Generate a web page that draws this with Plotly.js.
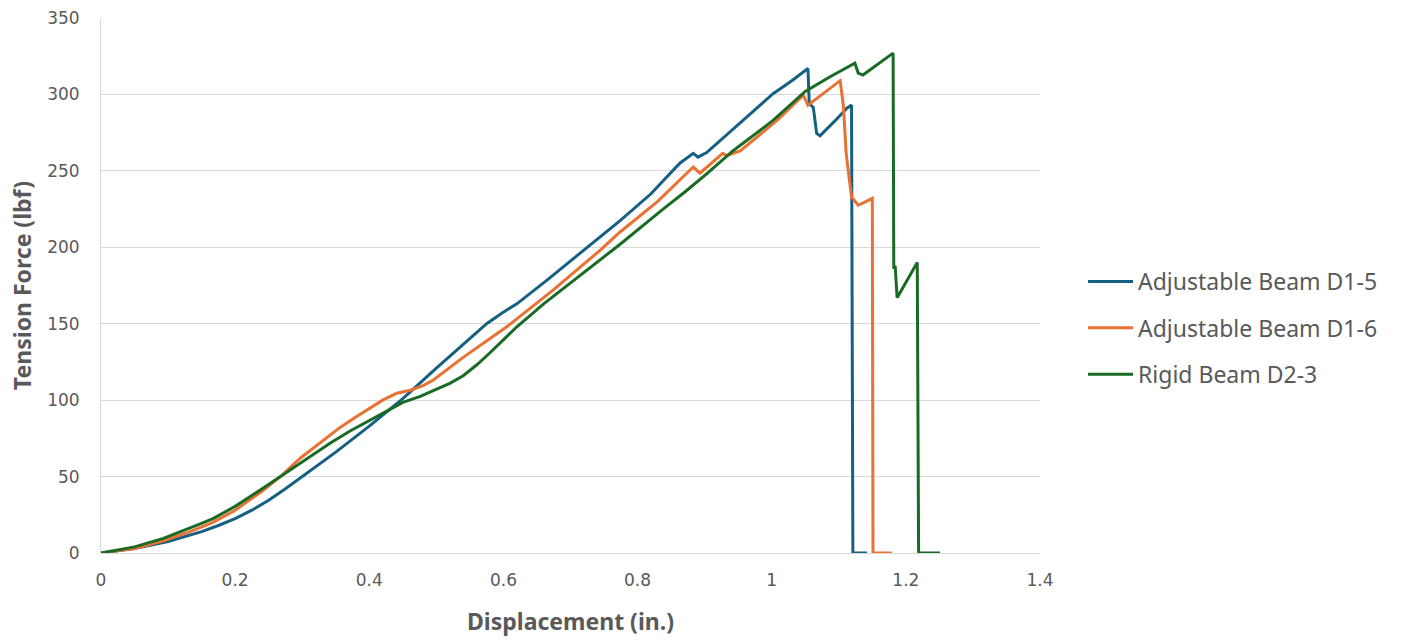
<!DOCTYPE html>
<html>
<head>
<meta charset="utf-8">
<script src="https://cdn.plot.ly/plotly-3.0.1.min.js"></script>
<style>html,body{margin:0;padding:0;background:#fff;}#chart{width:1402px;height:641px;}</style>
</head>
<body>
<div id="chart"></div>
<script>
// Series names
const seriesNames = ["Adjustable Beam D1-5", "Adjustable Beam D1-6", "Rigid Beam D2-3"];

// Adjustable Beam D1-5
const d15_x = [0, 0.05, 0.1, 0.125, 0.15, 0.175, 0.2, 0.225, 0.25, 0.275, 0.3, 0.35, 0.4, 0.45, 0.5, 0.55, 0.575, 0.598, 0.62, 0.665, 0.72, 0.774, 0.82, 0.863, 0.883, 0.89, 0.903, 0.957, 1.002, 1.03, 1.054, 1.056, 1.062, 1.067, 1.072, 1.095, 1.112, 1.119, 1.121, 1.142];
const d15_y = [0, 3, 7.5, 10.5, 14, 18, 22.5, 28, 34.5, 42, 50, 66, 83, 101, 121, 140, 150, 157, 163, 178.5, 198, 217.5, 235, 255, 261.5, 259, 262, 283, 300.5, 309, 317, 294, 291.5, 274.5, 273, 283, 291, 293, 0, 0];

// Adjustable Beam D1-6
const d16_x = [0, 0.05, 0.093, 0.13, 0.167, 0.2, 0.242, 0.27, 0.297, 0.336, 0.356, 0.38, 0.401, 0.42, 0.441, 0.461, 0.48, 0.495, 0.54, 0.605, 0.674, 0.744, 0.774, 0.83, 0.883, 0.893, 0.927, 0.933, 0.953, 1.008, 1.047, 1.054, 1.06, 1.102, 1.107, 1.111, 1.119, 1.129, 1.141, 1.15, 1.151, 1.179];
const d16_y = [0, 3, 8, 13.5, 20, 28, 41, 51, 62, 75, 82, 89, 95, 100, 104.5, 106.5, 109.5, 113, 128, 148, 172, 198, 210, 230, 252.5, 248.5, 261.5, 260, 263, 283, 299.5, 293, 295, 309, 292, 261.5, 233, 227.5, 230, 232, 0, 0];

// Rigid Beam D2-3
const d23_x = [0, 0.05, 0.093, 0.12, 0.148, 0.167, 0.2, 0.242, 0.277, 0.31, 0.342, 0.372, 0.401, 0.43, 0.45, 0.476, 0.5, 0.52, 0.54, 0.56, 0.58, 0.6, 0.62, 0.66, 0.699, 0.73, 0.774, 0.838, 0.87, 0.903, 0.942, 1.002, 1.05, 1.087, 1.124, 1.129, 1.136, 1.181, 1.182, 1.184, 1.187, 1.217, 1.219, 1.251];
const d23_y = [0, 4, 9.6, 14, 19, 22.5, 30.5, 42.5, 53, 62.5, 72, 80, 87, 94, 98.5, 102.5, 107, 111, 116, 123, 131, 139.5, 148, 163, 176.5, 187, 202, 225, 236, 248, 263, 283, 302, 311.6, 320.5, 314, 312.7, 327, 186, 188, 167, 190, 0, 0];

// Tick values
const xTicks = [0, 0.2, 0.4, 0.6, 0.8, 1, 1.2, 1.4];
const xTickText = ["0", "0.2", "0.4", "0.6", "0.8", "1", "1.2", "1.4"];
const yTicks = [0, 50, 100, 150, 200, 250, 300, 350];

const colors = ["#156082", "#E97132", "#196B24"];
const xs = [d15_x, d16_x, d23_x];
const ys = [d15_y, d16_y, d23_y];

const traces = seriesNames.map((n, i) => ({
  type: "scatter",
  mode: "lines",
  name: n,
  legendgroup: "g" + i,
  x: xs[i],
  y: ys[i],
  line: {color: colors[i], width: 3, shape: "linear"},
  hoverinfo: "skip"
}));

const tickFont = {family: "DejaVu Sans, sans-serif", size: 17, color: "#595959"};
const titleFont = {family: "Noto Sans, sans-serif", size: 23, color: "#595959", weight: "bold"};

const layout = {
  width: 1402,
  height: 641,
  margin: {l: 101, r: 362, t: 18, b: 88, pad: 0},
  paper_bgcolor: "#ffffff",
  plot_bgcolor: "#ffffff",
  showlegend: true,
  legend: {
    x: 1.0458, xanchor: "left",
    y: 0.4206, yanchor: "middle",
    font: {family: "Noto Sans, sans-serif", size: 23, color: "#595959"},
    tracegroupgap: 13.5,
    itemwidth: 45,
    bgcolor: "rgba(0,0,0,0)",
    traceorder: "grouped"
  },
  xaxis: {
    range: [0, 1.4],
    tickvals: xTicks,
    ticktext: xTickText,
    tickfont: tickFont,
    showgrid: false,
    zeroline: false,
    showline: true,
    linecolor: "#d9d9d9",
    linewidth: 1,
    ticks: "",
    ticklabelstandoff: 12,
    title: {text: "Displacement (in.)", font: titleFont, standoff: 24},
    automargin: false,
    fixedrange: true
  },
  yaxis: {
    range: [0, 350],
    tickvals: yTicks,
    tickfont: tickFont,
    showgrid: true,
    gridcolor: "#d9d9d9",
    gridwidth: 1,
    zeroline: false,
    showline: true,
    linecolor: "#d9d9d9",
    linewidth: 1,
    ticks: "",
    ticklabelstandoff: 17,
    title: {text: "Tension Force (lbf)", font: titleFont, standoff: 9},
    automargin: false,
    fixedrange: true
  }
};

Plotly.newPlot("chart", traces, layout, {displayModeBar: false, staticPlot: true});
</script>
</body>
</html>
